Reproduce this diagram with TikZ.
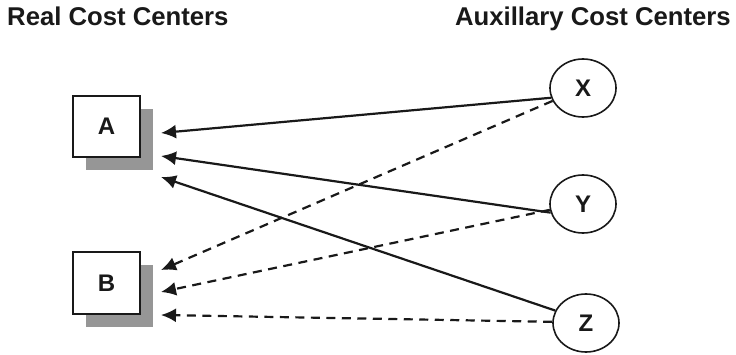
\documentclass[tikz,border=0pt]{standalone}
\usepackage{fontspec}
\setmainfont{Liberation Sans}
\usetikzlibrary{shapes.geometric,shadows,arrows.meta}
\definecolor{shadowgray}{RGB}{150,150,150}
\definecolor{ink}{RGB}{25,25,25}
\begin{document}
\begin{tikzpicture}[x=1pt,y=-1pt,
  title/.style={font=\fontsize{25.7}{30}\selectfont\bfseries, inner sep=0pt, text=ink},
  centerbox/.style={draw=ink, line width=2pt, fill=white, minimum width=67pt, minimum height=61pt, inner sep=0pt,
     font=\fontsize{24}{28}\selectfont\bfseries, text=ink,
     general shadow={shadow xshift=13pt, shadow yshift=-13pt, fill=shadowgray}},
  auxnode/.style={draw=ink, ellipse, line width=1.6pt, minimum width=66pt, minimum height=58pt, inner sep=0pt,
     font=\fontsize{24}{28}\selectfont\bfseries, text=ink},
  flow/.style={draw=ink, line width=2.2pt, -{Latex[length=15pt,width=14pt]}},
  dflow/.style={flow, dash pattern=on 9pt off 6.5pt}
]
\useasboundingbox (0,0) rectangle (736,355);
\node[title, anchor=base west] (t1) at (7,26) {Real Cost Centers};
\node[title, anchor=base east] (t2) at (731,26) {Auxillary Cost Centers};

\node[centerbox] (A) at (106.5,126.5) {A};
\node[centerbox] (B) at (106.5,283) {B};

\node[auxnode] (X) at (583,88) {X};
\node[auxnode] (Y) at (583,204) {Y};
\node[auxnode] (Z) at (586,323) {Z};

\coordinate (a1) at (161,133);
\coordinate (a2) at (161,156);
\coordinate (a3) at (161,177);
\coordinate (b1) at (161,270);
\coordinate (b2) at (161,292);
\coordinate (b3) at (161,315);

\draw[flow] (X.197) -- (a1);
\draw[flow] (Y.195) -- (a2);
\draw[flow] (Z.158) -- (a3);
\draw[dflow] (X.203) -- (b1);
\draw[dflow] (Y.190) -- (b2);
\draw[dflow] (Z.178) -- (b3);
\end{tikzpicture}
\end{document}
